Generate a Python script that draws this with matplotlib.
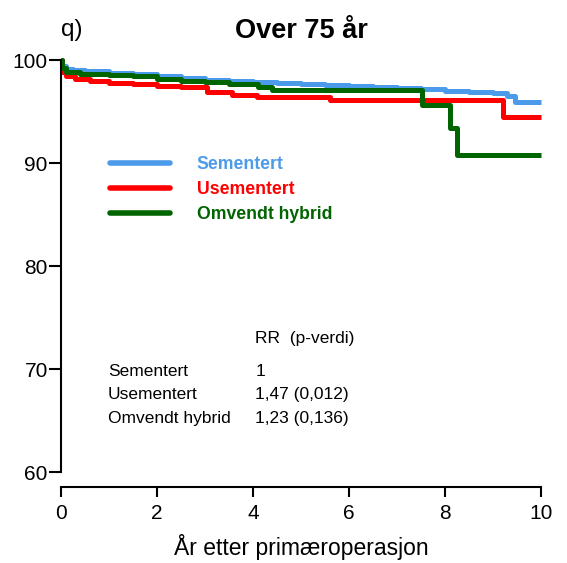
import numpy as np
import matplotlib.pyplot as plt
from matplotlib.lines import Line2D

plt.rcParams['font.family'] = ['Liberation Sans', 'DejaVu Sans']

# Kaplan-Meier style survival curves (years, % survival)
t_sem = [0, 0.03, 0.1, 0.25, 0.5, 1.0, 1.5, 2.0, 2.5, 3.0, 3.5, 4.0, 4.5, 5.0, 5.5,
         6.0, 6.5, 7.0, 7.5, 8.0, 8.5, 9.0, 9.3, 9.46, 10]
s_sem = [100, 99.4, 99.1, 99.0, 98.9, 98.7, 98.6, 98.4, 98.3, 98.1, 98.0, 97.9, 97.8,
         97.7, 97.6, 97.5, 97.4, 97.3, 97.2, 97.0, 96.9, 96.8, 96.5, 95.9, 95.9]

t_use = [0, 0.03, 0.1, 0.3, 0.6, 1.0, 1.5, 2.0, 2.5, 3.04, 3.56, 4.08, 5.6, 9.2, 10]
s_use = [100, 98.8, 98.4, 98.2, 98.0, 97.8, 97.7, 97.5, 97.4, 96.9, 96.6, 96.4, 96.1,
         94.5, 94.5]

t_omv = [0, 0.03, 0.1, 0.4, 1.0, 1.5, 2.0, 2.5, 3.0, 3.5, 4.1, 4.4, 7.52, 8.1, 8.25, 10]
s_omv = [100, 99.2, 98.8, 98.6, 98.5, 98.4, 98.2, 98.0, 97.9, 97.7, 97.4, 97.1, 95.6,
         93.4, 90.8, 90.8]

labels = ['Sementert', 'Usementert', 'Omvendt hybrid']
colors = ['#4C9BEA', '#FF0000', '#006400']
rr_text = ['1', '1,47 (0,012)', '1,23 (0,136)']

fig = plt.figure(figsize=(5.67, 5.63), dpi=100)
ax = fig.add_axes([0.1076, 0.1616, 0.8466, 0.7318])

for t, s, c in zip([t_sem, t_use, t_omv], [s_sem, s_use, s_omv], colors):
    ax.step(t, s, where='post', color=c, lw=3.6, clip_on=False, solid_capstyle='butt')

ax.set_xlim(0, 10)
ax.set_ylim(60, 100)
ax.set_xticks(range(0, 11, 2))
ax.set_yticks(range(60, 101, 10))
for sp in ['top', 'right']:
    ax.spines[sp].set_visible(False)
ax.spines['bottom'].set_position(('outward', 11))
ax.spines['left'].set_linewidth(1.5)
ax.spines['bottom'].set_linewidth(1.5)
ax.tick_params(axis='both', width=1.5, labelsize=15)
ax.tick_params(axis='y', length=9, pad=0.5)
ax.tick_params(axis='x', length=7, pad=5)
ax.set_xlabel('År etter primæroperasjon', fontsize=16.5, labelpad=8)

ax.set_title('Over 75 år', fontsize=19.5, fontweight='bold', pad=16)
fig.text(0.108, 0.947, 'q)', fontsize=17.5, va='center')

handles = [Line2D([], [], color=c, lw=4, solid_capstyle='round') for c in colors]
leg = ax.legend(handles, labels, loc='upper left', bbox_to_anchor=(0.07, 0.805),
                frameon=False, handlelength=3.4, handletextpad=1.5,
                labelspacing=0.45, prop={'size': 12.7, 'weight': 'bold'},
                labelcolor='linecolor')

ax.text(0.405, 0.325, 'RR  (p-verdi)', transform=ax.transAxes, fontsize=12.5, va='center')
for i, (lab, rr) in enumerate(zip(labels, rr_text)):
    y = 0.245 - i * 0.057
    ax.text(0.098, y, lab, transform=ax.transAxes, fontsize=12.5, va='center')
    ax.text(0.405, y, rr, transform=ax.transAxes, fontsize=12.5, va='center')

fig.savefig('out.png', dpi=100)
